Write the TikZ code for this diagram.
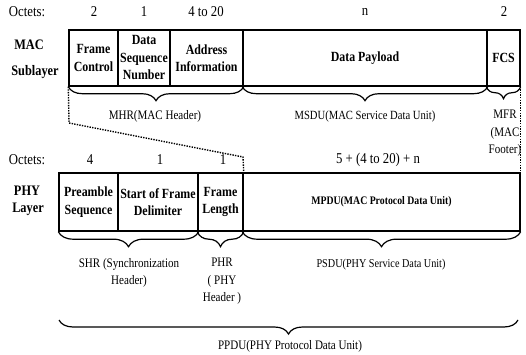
\documentclass[tikz,border=0pt]{standalone}
\usepackage{fontspec}
\setmainfont{Liberation Serif}[FakeStretch=0.85]
\usetikzlibrary{decorations.pathreplacing}
\begin{document}
\begin{tikzpicture}[x=1pt,y=-1pt,
  cell/.style={draw, line width=1.4pt, inner sep=0pt, align=center,
    font=\fontsize{14}{17.5}\selectfont\bfseries},
  layer/.style={inner sep=0pt, font=\fontsize{14.5}{17}\selectfont\bfseries},
  octs/.style={inner sep=0pt, font=\fontsize{15}{17}\selectfont},
  lbl/.style={inner sep=0pt, align=center, font=\fontsize{13}{17.5}\selectfont},
  brc/.style={decorate, line width=1.2pt,
    decoration={brace, mirror, amplitude=#1}},
  brc/.default=14pt,
  dotline/.style={line width=1.4pt, dash pattern=on 1.4pt off 1.2pt}]
\useasboundingbox (0,0) rectangle (526,355);

% ---- MAC sublayer frame ----
\node[octs] (octA) at (27,12) {Octets:};
\node[octs] (nFC)  at (94,12) {2};
\node[octs] (nDSN) at (144,12) {1};
\node[octs] (nAI)  at (206,12) {4 to 20};
\node[octs] (nDP)  at (365,12) {n};
\node[octs] (nFCS) at (504,12) {2};

\node[layer] (mac) at (29,45) {MAC};
\node[layer] (sub) at (35,72) {Sublayer};

\node[cell, minimum width=49pt,  minimum height=56pt] (fc)  at (93.5,58) {Frame\\Control};
\node[cell, minimum width=52pt,  minimum height=56pt] (dsn) at (144,58) {Data\\Sequence\\Number};
\node[cell, minimum width=73pt,  minimum height=56pt] (ai)  at (206.5,58) {Address\\Information};
\node[cell, minimum width=244pt, minimum height=56pt] (dp)  at (365,58) {Data Payload};
\node[cell, minimum width=33pt,  minimum height=56pt] (fcs) at (503.5,58) {FCS};

\draw[brc] (fc.south west) -- (ai.south east);
\draw[brc] (dp.south west) -- (dp.south east);
\draw[brc=12pt] (fcs.south west) -- (fcs.south east);

\node[lbl] (mhr)  at (155,116) {MHR(MAC Header)};
\node[lbl, font=\fontsize{12.5}{17.5}\selectfont] (msdu) at (365,116) {MSDU(MAC Service Data Unit)};
\node[lbl, anchor=north] (mfr) at (505,110) {MFR\\(MAC\\Footer)};

% ---- PHY layer frame ----
\node[octs] (octB) at (27,160) {Octets:};
\node[octs] (nPS)  at (90,160) {4};
\node[octs] (nSFD) at (160,160) {1};
\node[octs] (nFL)  at (223,160) {1};
\node[octs] (nMP)  at (378,160) {5 + (4 to 20) + n};

\node[layer] (phy) at (27,191) {PHY};
\node[layer] (lay) at (28,209) {Layer};

\node[cell, minimum width=59pt,  minimum height=58pt] (ps)   at (88.5,202) {Preamble\\Sequence};
\node[cell, minimum width=80pt,  minimum height=58pt] (sfd)  at (158,202) {Start of Frame\\Delimiter};
\node[cell, minimum width=45pt,  minimum height=58pt] (fl)   at (220.5,202) {Frame\\Length};
\node[cell, minimum width=277pt, minimum height=58pt, font=\fontsize{11.5}{13}\selectfont\bfseries] (mpdu) at (381.5,202) {MPDU(MAC Protocol Data Unit)};

% MPDU is carried inside the PSDU
\coordinate (k1) at (69,123);
\coordinate (k2) at (243,157);
\draw[dotline] (fc.south west) -- (k1) -- (k2) -- (fl.north east);
\draw[dotline] (fcs.south east) -- (mpdu.north east);

\draw[brc=15pt] (ps.south west) -- (sfd.south east);
\draw[brc=15pt] (fl.south west) -- (fl.south east);
\draw[brc=15pt] (mpdu.south west) -- (mpdu.south east);

\node[lbl, anchor=north] (shr)  at (129,258) {SHR (Synchronization\\Header)};
\node[lbl, anchor=north] (phr)  at (222,258) {PHR\\( PHY\\Header )};
\node[lbl, font=\fontsize{12}{17.5}\selectfont] (psdu) at (381,265) {PSDU(PHY Service Data Unit)};

\coordinate (pL) at (59,320);
\coordinate (pR) at (518,320);
\draw[brc=14pt] (pL) -- (pR);
\node[lbl] (ppdu) at (290,346) {PPDU(PHY Protocol Data Unit)};
\end{tikzpicture}
\end{document}
